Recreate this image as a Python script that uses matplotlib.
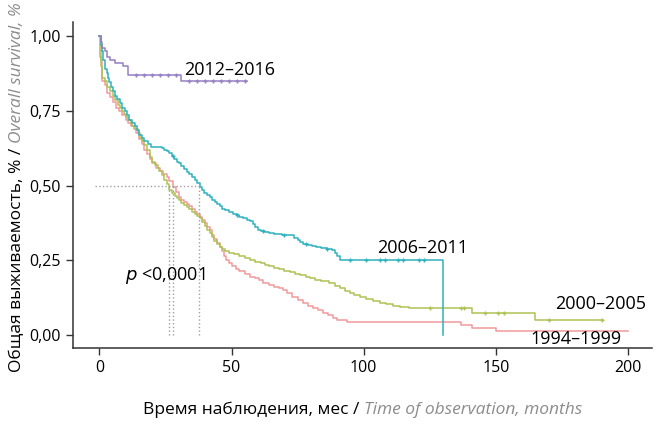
import numpy as np
import matplotlib
matplotlib.use("Agg")
from matplotlib import pyplot as plt

plt.rcParams['font.family'] = ['Open Sans', 'DejaVu Sans']

# данные кривых Каплана-Мейера (время, мес / доля выживших)
t_2012 = [0, 0.5, 1, 2, 3, 4, 6, 9, 11, 30, 31, 56]
s_2012 = [1.0, 0.98, 0.96, 0.95, 0.93, 0.92, 0.91, 0.90, 0.87, 0.87, 0.85, 0.85]
c_2012 = [14, 17, 20, 23, 26, 29, 34, 37, 40, 43, 46, 49, 52, 55]

t_2006 = [0, 0.5, 1, 1.5, 2, 2.7, 3.3, 3.8, 4.5, 5.3, 6, 6.8, 7.6, 8.7, 9.5, 10.3, 11.2, 12.5, 13.3, 14.2,
          15.1, 16, 17, 18.3, 19.7, 21, 23.5, 24.5, 25.5, 26.5, 27.5, 28.4, 29.2, 30, 31, 32, 33, 34, 35, 36,
          37, 37.9, 38.8, 39.7, 40.6, 41.7, 42.6, 43.6, 44.5, 45.5, 46.5, 47.7, 49, 50.5, 52, 53, 54.5, 56, 56.8, 58,
          59, 60, 61, 62.5, 64, 66, 69, 72, 73.5, 75, 75.8, 77, 79, 80.5, 82, 84, 86, 88, 89, 90,
          91, 130]
s_2006 = [1.0, 0.97, 0.95, 0.92, 0.89, 0.875, 0.86, 0.845, 0.83, 0.815, 0.80, 0.79, 0.775, 0.76, 0.75, 0.735, 0.72, 0.71, 0.70, 0.685,
          0.67, 0.66, 0.65, 0.64, 0.63, 0.628, 0.625, 0.62, 0.615, 0.61, 0.60, 0.59, 0.58, 0.575, 0.565, 0.555, 0.545, 0.54, 0.53, 0.52,
          0.51, 0.495, 0.485, 0.475, 0.468, 0.46, 0.452, 0.445, 0.438, 0.43, 0.423, 0.417, 0.41, 0.405, 0.40, 0.395, 0.39, 0.385, 0.38, 0.37,
          0.36, 0.352, 0.347, 0.343, 0.34, 0.338, 0.336, 0.335, 0.325, 0.318, 0.31, 0.306, 0.30, 0.298, 0.295, 0.29, 0.287, 0.285, 0.275, 0.265,
          0.25, 0.0]
c_2006 = [28, 52, 62, 70, 78, 86, 95, 101, 106, 108, 113, 115, 121, 123]

t_2000 = [0, 0.3, 0.7, 1.1, 2, 3, 4, 5, 6, 7, 7.6, 8.5, 9.3, 10, 11, 12, 12.5, 13.5, 14.5, 15.3,
          16, 17, 18, 19, 20, 21, 22, 22.7, 23.6, 24.5, 25.5, 26.5, 27.5, 28.5, 29.3, 30, 31, 32, 33, 34,
          35, 36, 37, 38, 39, 40, 40.8, 41.7, 42.6, 43.5, 44.5, 45.5, 46.5, 47.5, 49, 51, 53, 55, 57, 59,
          61, 62.5, 64, 66, 68, 70, 72, 74, 76, 78, 79.5, 81.5, 84, 87, 89, 91, 93, 94.7, 96.5, 98.5,
          101, 103.5, 106, 108.5, 111, 113.6, 117, 141, 165, 190.5]
s_2000 = [1.0, 0.93, 0.90, 0.86, 0.85, 0.83, 0.815, 0.80, 0.785, 0.77, 0.76, 0.75, 0.74, 0.73, 0.72, 0.71, 0.70, 0.69, 0.675, 0.66,
          0.65, 0.635, 0.62, 0.595, 0.58, 0.57, 0.56, 0.55, 0.535, 0.52, 0.505, 0.485, 0.475, 0.465, 0.457, 0.45, 0.443, 0.435, 0.428, 0.42,
          0.413, 0.405, 0.397, 0.39, 0.378, 0.365, 0.352, 0.34, 0.328, 0.315, 0.305, 0.295, 0.288, 0.282, 0.275, 0.27, 0.264, 0.257, 0.25, 0.245,
          0.24, 0.235, 0.23, 0.225, 0.22, 0.215, 0.21, 0.205, 0.2, 0.195, 0.19, 0.185, 0.18, 0.174, 0.165, 0.157, 0.148, 0.14, 0.133, 0.127,
          0.12, 0.113, 0.107, 0.102, 0.098, 0.094, 0.09, 0.074, 0.05, 0.05]
c_2000 = [125, 137, 138, 146, 151, 153, 170, 190]

t_1994 = [0, 0.5, 1.1, 2, 3, 4, 5, 6.4, 7.5, 8.7, 10, 11, 12, 13, 14, 15, 16, 17, 18, 19,
          20, 21.5, 23, 24.2, 25.4, 26.5, 27.7, 28.8, 30, 31, 32, 33, 34, 35, 36, 37, 38, 39, 40, 40.8,
          41.7, 42.6, 43.5, 44.5, 45.5, 46.3, 47.2, 48, 49, 50, 51.5, 53, 55,
          57, 59, 60.5, 62, 64, 66, 68, 69.5, 71, 73, 75, 77, 79, 81, 82.8, 84.5, 86.5, 88.5, 90, 93.5,
          137, 141, 150, 200]
s_1994 = [1.0, 0.92, 0.85, 0.835, 0.81, 0.795, 0.78, 0.76, 0.75, 0.735, 0.72, 0.71, 0.70, 0.69, 0.675, 0.655, 0.64, 0.62, 0.605, 0.59,
          0.575, 0.56, 0.55, 0.54, 0.53, 0.515, 0.495, 0.478, 0.46, 0.452, 0.445, 0.437, 0.43, 0.422, 0.413, 0.405, 0.395, 0.385, 0.373, 0.362,
          0.35, 0.336, 0.322, 0.308, 0.295, 0.28, 0.265, 0.252, 0.24, 0.23, 0.22, 0.214, 0.205,
          0.195, 0.19, 0.184, 0.174, 0.168, 0.162, 0.156, 0.15, 0.14, 0.128, 0.117, 0.107, 0.098, 0.09, 0.082, 0.074, 0.066, 0.058, 0.05, 0.043,
          0.033, 0.023, 0.013, 0.013]
c_1994 = []

medians = [26.5, 28, 37.7]
groups = ['2012–2016', '2006–2011', '2000–2005', '1994–1999']
colors = ['#9580c4', '#2fb1c0', '#adc254', '#f29a9a']

fig = plt.figure(figsize=(6.66, 4.24), dpi=100)
ax = fig.add_axes([0.1096, 0.179, 0.869, 0.769])

series = [(t_2012, s_2012, c_2012), (t_2006, s_2006, c_2006),
          (t_2000, s_2000, c_2000), (t_1994, s_1994, c_1994)]
for (t, s, c), col in zip(series[::-1], colors[::-1]):
    ax.step(t, s, where='post', color=col, lw=1.1)
    if c:
        idx = np.searchsorted(t, c, side='right') - 1
        ax.plot(c, np.array(s)[idx], '+', color=col, ms=3.5, mew=1)

# медианы
ax.plot([-1.5, max(medians)], [0.5, 0.5], ls=':', color='#a0a0a0', lw=1)
for m in medians:
    ax.plot([m, m], [0, 0.5], ls=':', color='#a0a0a0', lw=1)

ax.text(32, 0.885, groups[0], fontsize=13, va='center')
ax.text(105, 0.292, groups[1], fontsize=13, va='center')
ax.text(172.5, 0.102, groups[2], fontsize=13, va='center')
ax.text(163, -0.012, groups[3], fontsize=13, va='center')
ax.text(9.5, 0.2, '$p$ <0,0001', fontsize=13, va='center')

ax.set_xlim(-10, 209)
ax.set_ylim(-0.044, 1.047)
ax.set_xticks([0, 50, 100, 150, 200])
ax.set_yticks([0, 0.25, 0.5, 0.75, 1.0])
ax.set_yticklabels(['0,00', '0,25', '0,50', '0,75', '1,00'])
ax.tick_params(labelsize=11.5, color='#333333', length=5, width=1)
for sp in ['top', 'right']:
    ax.spines[sp].set_visible(False)
for sp in ['left', 'bottom']:
    ax.spines[sp].set_color('#333333')
    ax.spines[sp].set_linewidth(1.1)

# подписи осей из двух частей
fig.canvas.draw()
r = fig.canvas.get_renderer()
fs = 12.5
a1 = fig.text(0, 0, 'Время наблюдения, мес / ', fontsize=fs)
a2 = fig.text(0, 0, 'Time of observation, months', fontsize=fs, style='italic', color='#8c8c8c')
w1 = a1.get_window_extent(r).width / fig.bbox.width
w2 = a2.get_window_extent(r).width / fig.bbox.width
x0 = 363 / 666 - (w1 + w2) / 2
yl = 1 - 410 / 424
a1.set_position((x0, yl)); a1.set_va('center')
a2.set_position((x0 + w1, yl)); a2.set_va('center')

b1 = fig.text(0, 0, 'Общая выживаемость, % / ', fontsize=fs, rotation=90)
b2 = fig.text(0, 0, 'Overall survival, %', fontsize=fs, rotation=90, style='italic', color='#8c8c8c')
h1 = b1.get_window_extent(r).height / fig.bbox.height
h2 = b2.get_window_extent(r).height / fig.bbox.height
y0 = 1 - 187 / 424 - (h1 + h2) / 2
xl = 17 / 666
b1.set_position((xl, y0)); b1.set_ha('center'); b1.set_va('bottom')
b2.set_position((xl, y0 + h1)); b2.set_ha('center'); b2.set_va('bottom')

plt.savefig('out.png', dpi=100)
